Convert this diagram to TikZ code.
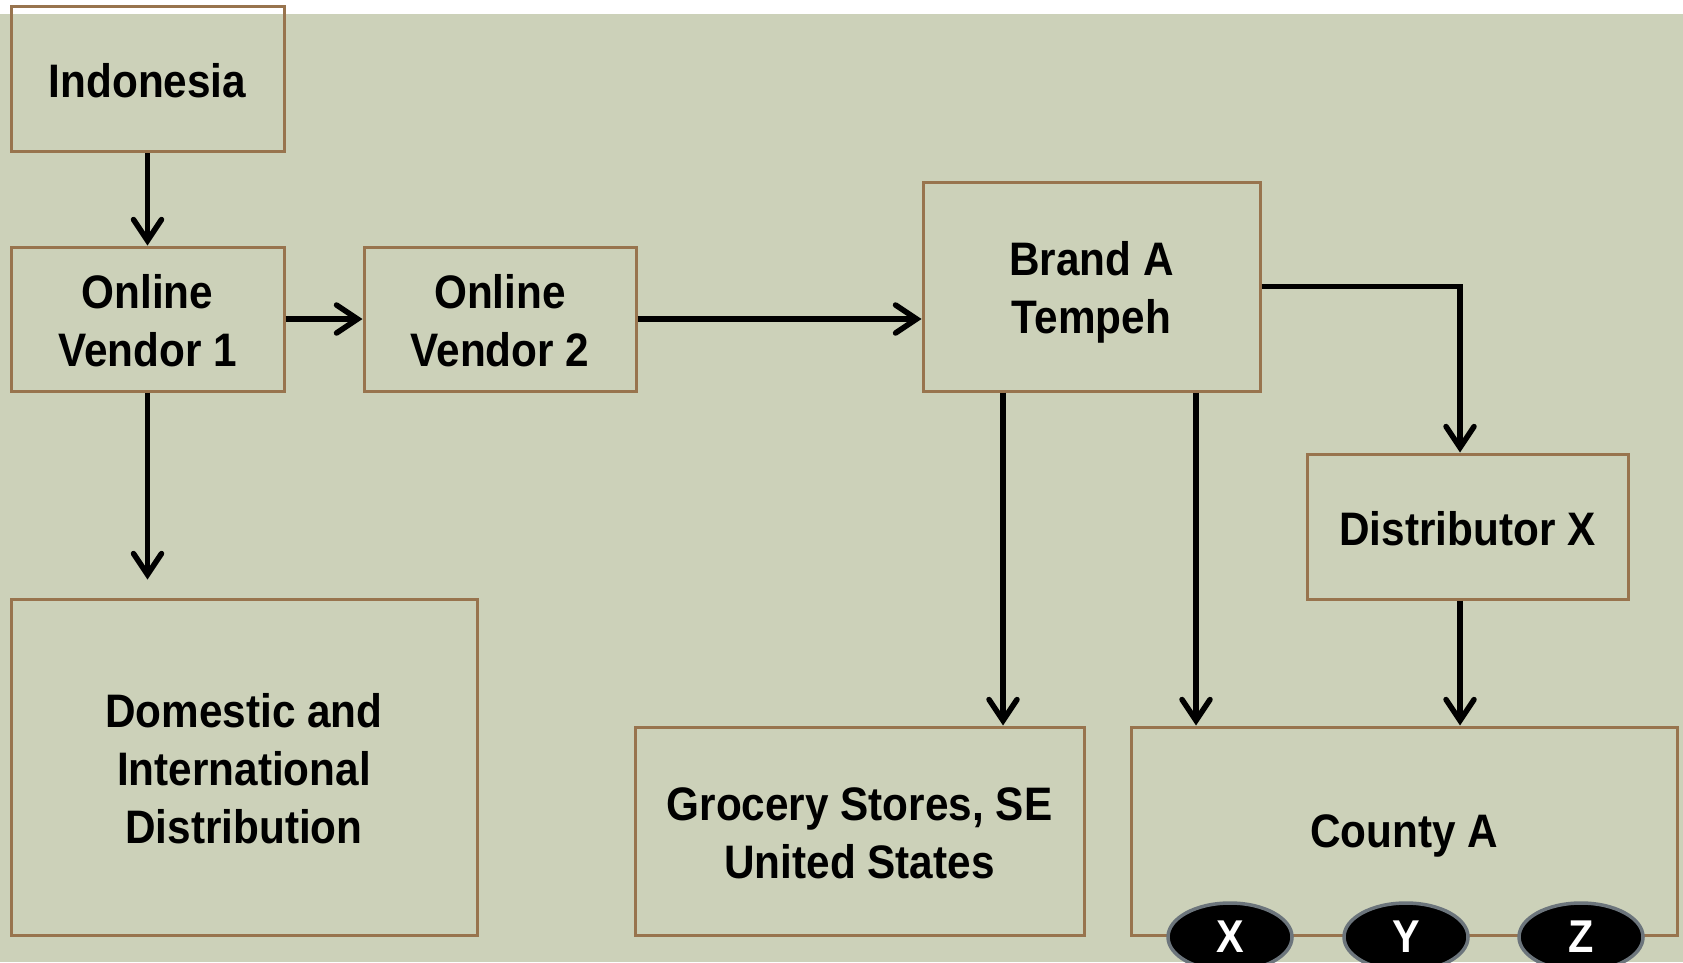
\documentclass[tikz,border=0pt]{standalone}
\usepackage{fontspec}
\setmainfont{Liberation Sans}[FakeStretch=0.9]
\usetikzlibrary{arrows.meta,shapes.geometric}
\definecolor{bgsage}{RGB}{204,209,185}
\definecolor{boxbrown}{RGB}{152,116,78}
\definecolor{rimgray}{RGB}{108,117,124}
\tikzset{
  stage/.style={draw=boxbrown, line width=3pt, inner sep=0pt},
  caption/.style={align=center, inner sep=0pt,
    font=\fontsize{47}{58}\selectfont\bfseries},
  flow/.style={line width=5.5pt, -{Straight Barb[length=21pt,width=28pt,line cap=round]}},
  tag/.style={ellipse, draw=rimgray, fill=black, line width=3.5pt, text=white,
    minimum width=124pt, minimum height=68pt, inner sep=0pt,
    font=\fontsize{46}{46}\selectfont\bfseries}
}
\begin{document}
\begin{tikzpicture}[x=1pt,y=-1pt]
\useasboundingbox (0,0) rectangle (1683,962);
\fill[white] (0,0) rectangle (1683,962);
\fill[bgsage] (0,14) rectangle (1683,962);

% supply chain stages
\node[stage, minimum width=273pt, minimum height=145pt] (indo) at (147.5,79) {};
\node[stage, minimum width=273pt, minimum height=144pt] (ov1) at (147.5,319) {};
\node[stage, minimum width=272pt, minimum height=144pt] (ov2) at (500,319) {};
\node[stage, minimum width=337pt, minimum height=209pt] (brand) at (1091.5,286.5) {};
\node[stage, minimum width=321pt, minimum height=145pt] (dist) at (1467.5,526.5) {};
\node[stage, minimum width=466pt, minimum height=336pt] (dom) at (244,767) {};
\node[stage, minimum width=449pt, minimum height=208pt] (groc) at (859.5,831) {};
\node[stage, minimum width=546pt, minimum height=208pt] (county) at (1404,831) {};

% stage names
\node[caption] (indolbl) at (147.5,81) {Indonesia};
\node[caption] (ov1lbl) at (147.5,321) {Online\\Vendor 1};
\node[caption] (ov2lbl) at (500,321) {Online\\Vendor 2};
\node[caption] (brandlbl) at (1091.5,292) {Brand A\\Tempeh};
\node[caption] (distlbl) at (1467.5,529) {Distributor X};
\node[caption] (domlbl) at (244,769) {Domestic and\\International\\Distribution};
\node[caption] (groclbl) at (859.5,833) {Grocery Stores, SE\\United States};
\node[caption] (countylbl) at (1404,836) {County A};

% county sub-areas
\node[tag] (tx) at (1230,937) {X};
\node[tag] (ty) at (1406,937) {Y};
\node[tag] (tz) at (1581,937) {Z};

% product flow
\draw[flow] (indo.south) -- (ov1.north);
\draw[flow] (ov1.east) -- (ov2.west);
\draw[flow] (ov2.east) -- (brand.west |- ov2.east);
\draw[flow, shorten >=18pt] (ov1.south) -- (ov1.south |- dom.north);
\draw[flow] ([xshift=-88.5pt]brand.south) -- ([xshift=-88.5pt]brand.south |- groc.north);
\draw[flow] ([xshift=104.5pt]brand.south) -- ([xshift=104.5pt]brand.south |- county.north);
\draw[flow] (brand.east) -| ([xshift=-7.5pt]dist.north);
\draw[flow] ([xshift=-7.5pt]dist.south) -- ([xshift=-7.5pt]dist.south |- county.north);
\end{tikzpicture}
\end{document}
